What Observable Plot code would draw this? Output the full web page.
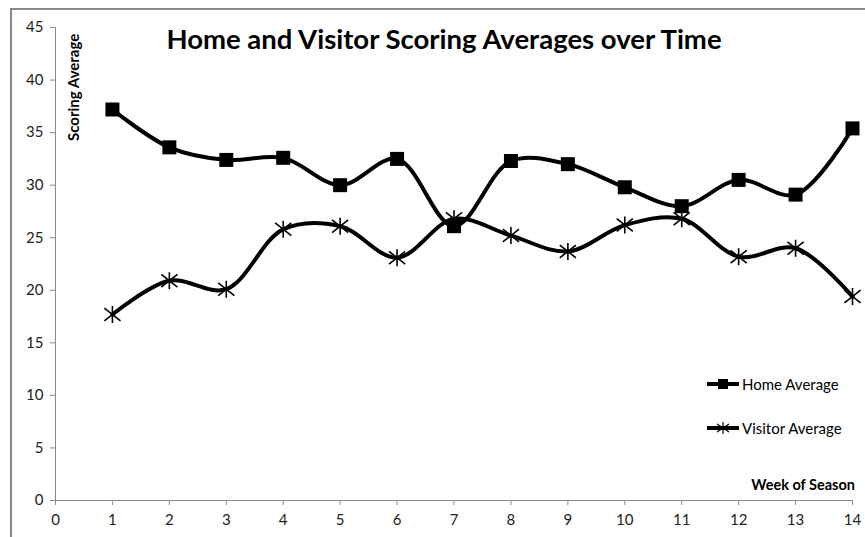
<!DOCTYPE html>
<html>
<head>
<meta charset="utf-8">
<script src="https://cdn.jsdelivr.net/npm/d3@7"></script>
<script src="https://cdn.jsdelivr.net/npm/@observablehq/plot@0.6"></script>
<style>
  html, body { margin: 0; padding: 0; background: #fff; }
  #wrap { position: relative; width: 865px; height: 537px; overflow: hidden; font-family: Lato, "Open Sans", sans-serif; }
  #frame { position: absolute; left: 10px; top: 8px; width: 900px; height: 600px; border: 2px solid #8a8a8a; box-sizing: border-box; pointer-events: none; }
  #title { position: absolute; left: 0; width: 888px; top: 22px; text-align: center; font-weight: bold; font-size: 27.5px; color: #000; white-space: nowrap; }
  #ylab { position: absolute; left: 64px; top: 141px; transform-origin: 0 0; transform: rotate(-90deg); font-weight: bold; font-size: 15px; white-space: nowrap; color: #000; }
  #xlab { position: absolute; right: 10px; top: 476px; font-weight: bold; font-size: 14.5px; color: #000; white-space: nowrap; }
  #legend { position: absolute; left: 706px; top: 373px; font-size: 15px; color: #000; }
  .li { display: flex; align-items: center; height: 22px; margin-bottom: 22px; }
  .li svg { margin-right: 2px; }
  #chart { position: absolute; left: 0; top: 0; }
</style>
</head>
<body>
<div id="wrap">
  <div id="chart"></div>
  <div id="frame"></div>
  <div id="title"></div>
  <div id="ylab"></div>
  <div id="xlab"></div>
  <div id="legend"></div>
</div>
<script>
// ---- data ----
const weeks = [1, 2, 3, 4, 5, 6, 7, 8, 9, 10, 11, 12, 13, 14];
const homeAverage = [37.2, 33.6, 32.4, 32.6, 30.0, 32.5, 26.1, 32.3, 32.0, 29.8, 28.0, 30.5, 29.1, 35.4];
const visitorAverage = [17.7, 20.9, 20.1, 25.8, 26.1, 23.1, 26.8, 25.2, 23.7, 26.2, 26.8, 23.2, 24.0, 19.4];
const seriesNames = ["Home Average", "Visitor Average"];
const xTicks = [0, 1, 2, 3, 4, 5, 6, 7, 8, 9, 10, 11, 12, 13, 14];
const yTicks = [0, 5, 10, 15, 20, 25, 30, 35, 40, 45];
const titleText = "Home and Visitor Scoring Averages over Time";
const yLabel = "Scoring Average";
const xLabel = "Week of Season";

const home = weeks.map((w, i) => ({week: w, value: homeAverage[i]}));
const visitor = weeks.map((w, i) => ({week: w, value: visitorAverage[i]}));

// custom symbols (size = r*r*PI)
const squareSym = {
  draw(ctx, size) {
    const r = Math.sqrt(size / Math.PI);
    ctx.moveTo(-r, -r); ctx.lineTo(r, -r); ctx.lineTo(r, r); ctx.lineTo(-r, r); ctx.closePath();
  }
};
const starSym = {
  draw(ctx, size) {
    const r = Math.sqrt(size / Math.PI);
    ctx.moveTo(0, -r); ctx.lineTo(0, r);
    ctx.moveTo(-r * 0.95, -r * 0.75); ctx.lineTo(r * 0.95, r * 0.75);
    ctx.moveTo(-r * 0.95, r * 0.75); ctx.lineTo(r * 0.95, -r * 0.75);
  }
};

const axisColor = "#8a8a8a";
const plot = Plot.plot({
  width: 865,
  height: 537,
  marginLeft: 55,
  marginRight: 13,
  marginTop: 27,
  marginBottom: 37,
  style: {fontFamily: "Lato, 'Open Sans', sans-serif", fontSize: "15px", color: "#222", background: "transparent"},
  x: {domain: [0, 14]},
  y: {domain: [0, 45]},
  marks: [
    Plot.ruleX([0], {stroke: axisColor, strokeWidth: 1}),
    Plot.ruleY([0], {stroke: axisColor, strokeWidth: 1}),
    Plot.axisY({ticks: yTicks, tickSize: 5, tickPadding: 7, stroke: axisColor, label: null, fontSize: 15, fill: "#222"}),
    Plot.axisX({ticks: xTicks, tickSize: 5, tickPadding: 9, stroke: axisColor, label: null, fontSize: 15, fill: "#222"}),
    Plot.line(home, {x: "week", y: "value", curve: "catmull-rom", stroke: "#000", strokeWidth: 4}),
    Plot.line(visitor, {x: "week", y: "value", curve: "catmull-rom", stroke: "#000", strokeWidth: 4}),
    Plot.dot(home, {x: "week", y: "value", symbol: squareSym, r: 7, fill: "#000", stroke: "none"}),
    Plot.dot(visitor, {x: "week", y: "value", symbol: starSym, r: 8.5, fill: "none", stroke: "#000", strokeWidth: 1.6})
  ]
});
document.getElementById("chart").appendChild(plot);

document.getElementById("title").textContent = titleText;
document.getElementById("ylab").textContent = yLabel;
document.getElementById("xlab").textContent = xLabel;

// legend
const legend = document.getElementById("legend");
seriesNames.forEach((name, i) => {
  const row = document.createElement("div");
  row.className = "li";
  const sw = d3.create("svg").attr("width", 34).attr("height", 22);
  sw.append("line").attr("x1", 1).attr("x2", 33).attr("y1", 11).attr("y2", 11).attr("stroke", "#000").attr("stroke-width", 4);
  if (i === 0) {
    sw.append("rect").attr("x", 12).attr("y", 6).attr("width", 10).attr("height", 10).attr("fill", "#000");
  } else {
    sw.append("path").attr("d", "M17,5V17M11,7L23,15M11,15L23,7").attr("stroke", "#000").attr("stroke-width", 1.2).attr("fill", "none");
  }
  row.appendChild(sw.node());
  const t = document.createElement("span");
  t.textContent = name;
  row.appendChild(t);
  legend.appendChild(row);
});
</script>
</body>
</html>
